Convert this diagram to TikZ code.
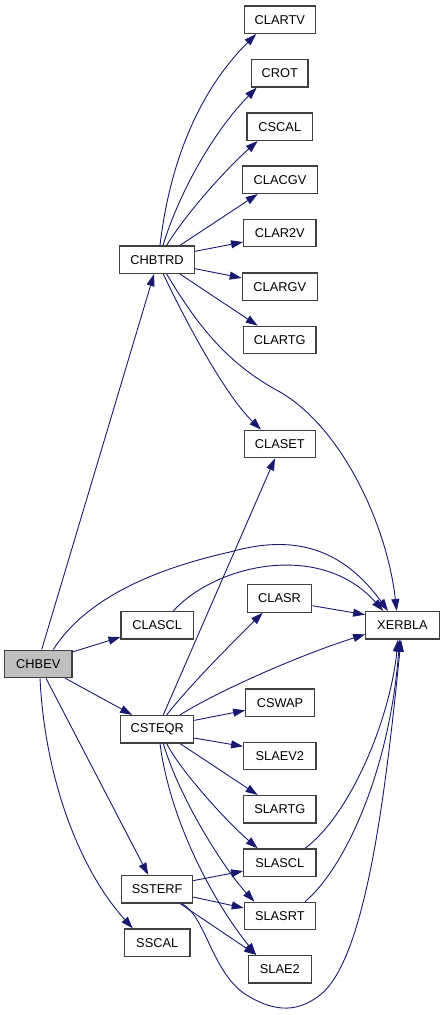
\documentclass[tikz,border=0pt]{standalone}
\usepackage{fontspec}
\setmainfont{Liberation Sans}
\usetikzlibrary{arrows.meta}
\definecolor{edgeblue}{HTML}{191970}
\definecolor{boxline}{HTML}{404040}
\definecolor{rootfill}{HTML}{BFBFBF}
\begin{document}
\begin{tikzpicture}[x=1pt,y=-1pt,
  fn/.style={draw=boxline, line width=1.2pt, fill=white, minimum height=27.5pt,
    inner xsep=0pt, inner ysep=0pt, font=\fontsize{12.8}{14}\selectfont},
  root/.style={fn, fill=rootfill},
  e/.style={draw=edgeblue, line width=0.9pt, -{Triangle[length=12pt,width=8pt,fill=edgeblue]}}]
\useasboundingbox (0,0) rectangle (445,1015);
% nodes
\node[fn, minimum width=71pt]   (CLARTV) at (279.8,19.7)  {CLARTV};
\node[fn, minimum width=56.3pt] (CROT)   at (279.8,73.3)  {CROT};
\node[fn, minimum width=65.7pt] (CSCAL)  at (279.8,126.7) {CSCAL};
\node[fn, minimum width=74.6pt] (CLACGV) at (280,179.7)   {CLACGV};
\node[fn, minimum width=72.3pt] (CLARtwoV) at (279.8,233) {CLAR2V};
\node[fn, minimum width=74.6pt] (CHBTRD) at (157,259.7)   {CHBTRD};
\node[fn, minimum width=75pt]   (CLARGV) at (279.8,286.7) {CLARGV};
\node[fn, minimum width=72.3pt] (CLARTG) at (279.8,340)   {CLARTG};
\node[fn, minimum width=71pt]   (CLASET) at (279.8,444)   {CLASET};
\node[fn, minimum width=64.4pt] (CLASR)  at (279.5,598.4) {CLASR};
\node[fn, minimum width=73.6pt] (XERBLA) at (402.5,625.3) {XERBLA};
\node[fn, minimum width=72.3pt] (CLASCL) at (157.2,625.3) {CLASCL};
\node[root, minimum width=67.3pt] (CHBEV) at (38.3,663.9) {CHBEV};
\node[fn, minimum width=68.6pt] (CSWAP)  at (280,702.7)   {CSWAP};
\node[fn, minimum width=73pt]   (CSTEQR) at (157.2,729.2) {CSTEQR};
\node[fn, minimum width=72.3pt] (SLAEVtwo) at (279.8,756) {SLAEV2};
\node[fn, minimum width=72.3pt] (SLARTG) at (279.8,809.3) {SLARTG};
\node[fn, minimum width=72.3pt] (SLASCL) at (279.8,862.7) {SLASCL};
\node[fn, minimum width=71pt]   (SSTERF) at (157.2,889.2) {SSTERF};
\node[fn, minimum width=71pt]   (SLASRT) at (279.8,916)   {SLASRT};
\node[fn, minimum width=65.7pt] (SSCAL)  at (157.2,942.7) {SSCAL};
\node[fn, minimum width=63pt]   (SLAEtwo) at (279.8,969.2) {SLAE2};
% CHBEV edges
\draw[e] ([xshift=3.4pt]CHBEV.north) -- ([xshift=-3pt]CHBTRD.south);
\draw[e] ([yshift=-2.4pt]CHBEV.north east) -- ([yshift=2.6pt]CLASCL.south west);
\draw[e] ([xshift=15pt]CHBEV.north) .. controls (85,600) and (150,570) .. (230,552)
   .. controls (290,535) and (340,545) .. ([xshift=-14.5pt]XERBLA.north);
\draw[e] ([xshift=-7.3pt]CHBEV.south east) -- ([xshift=12pt]CSTEQR.north west);
\draw[e] ([xshift=7.7pt]CHBEV.south) -- ([xshift=-9pt]SSTERF.north);
\draw[e] ([xshift=1.7pt]CHBEV.south) .. controls (45,780) and (80,870) .. ([xshift=9pt]SSCAL.north west);
% CHBTRD edges
\draw[e] ([xshift=3pt]CHBTRD.north) .. controls (170,160) and (200,90) .. ([xshift=12.4pt]CLARTV.south west);
\draw[e] ([xshift=6pt]CHBTRD.north) .. controls (180,190) and (215,130) .. ([xshift=5.6pt]CROT.south west);
\draw[e] ([xshift=9.7pt]CHBTRD.north) .. controls (185,215) and (225,170) .. ([xshift=11.3pt]CSCAL.south west);
\draw[e] ([xshift=23pt]CHBTRD.north) -- ([xshift=15.6pt]CLACGV.south west);
\draw[e] ([yshift=-6pt]CHBTRD.north east) -- ([yshift=5.3pt]CLARtwoV.south west);
\draw[e] ([yshift=5.4pt]CHBTRD.south east) -- ([yshift=-5.6pt]CLARGV.north west);
\draw[e] ([xshift=23pt]CHBTRD.south) -- ([xshift=14.6pt]CLARTG.north west);
\draw[e] ([xshift=6.3pt]CHBTRD.south) .. controls (185,320) and (225,395) .. ([xshift=17.4pt]CLASET.north west);
\draw[e] ([xshift=9.7pt]CHBTRD.south) .. controls (200,330) and (230,365) .. (280,392)
   .. controls (342,428) and (387,525) .. ([xshift=-5.8pt]XERBLA.north);
% CLASCL, CLASR
\draw[e] ([xshift=16.1pt]CLASCL.north) .. controls (215,565) and (320,540) .. ([xshift=-19.2pt]XERBLA.north);
\draw[e] ([yshift=-7.3pt]CLASR.east) -- ([yshift=-3.7pt]XERBLA.north west);
% CSTEQR edges
\draw[e] ([xshift=6.1pt]CSTEQR.north) -- ([xshift=-4.8pt]CLASET.south);
\draw[e] ([xshift=9.5pt]CSTEQR.north) .. controls (190,685) and (235,640) .. ([xshift=16pt]CLASR.south west);
\draw[e] ([xshift=22.8pt]CSTEQR.north) .. controls (220,690) and (300,655) .. ([yshift=5.3pt]XERBLA.south west);
\draw[e] ([yshift=-5.5pt]CSTEQR.north east) -- ([yshift=6.7pt]CSWAP.south west);
\draw[e] ([yshift=5.5pt]CSTEQR.south east) -- ([yshift=-4.7pt]SLAEVtwo.north west);
\draw[e] ([xshift=22.8pt]CSTEQR.south) -- ([xshift=14.6pt]SLARTG.north west);
\draw[e] ([xshift=9.5pt]CSTEQR.south) .. controls (180,770) and (225,820) .. ([xshift=14.6pt]SLASCL.north west);
\draw[e] ([xshift=6.1pt]CSTEQR.south) .. controls (180,800) and (225,870) .. ([xshift=10.7pt]SLASRT.north west);
\draw[e] ([xshift=2.8pt]CSTEQR.south) .. controls (170,820) and (212,900) .. ([xshift=8.4pt]SLAEtwo.north west);
% SSTERF edges
\draw[e] ([yshift=-5.8pt]SSTERF.north east) -- ([yshift=6pt]SLASCL.south west);
\draw[e] ([yshift=6.5pt]SSTERF.south east) -- ([yshift=-6.3pt]SLASRT.north west);
\draw[e] ([xshift=22.8pt]SSTERF.south) -- ([xshift=8.4pt]SLAEtwo.north west);
\draw[e] ([xshift=24.5pt]SSTERF.south) .. controls (205,915) and (212,972) .. (245,994)
   .. controls (270,1010) and (295,1015) .. (320,995)
   .. controls (365,960) and (385,800) .. ([xshift=-1.5pt]XERBLA.south);
% SLASCL, SLASRT to XERBLA
\draw[e] ([xshift=25.2pt]SLASCL.north) .. controls (350,815) and (390,720) .. ([xshift=-4.5pt]XERBLA.south);
\draw[e] ([xshift=25.2pt]SLASRT.north) .. controls (345,868) and (390,770) .. ([xshift=-3pt]XERBLA.south);
\end{tikzpicture}
\end{document}
